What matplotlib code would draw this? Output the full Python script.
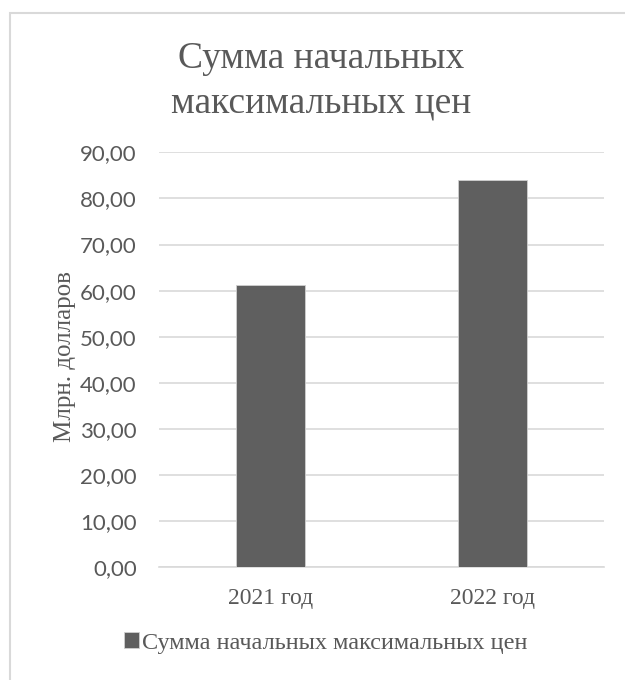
import matplotlib
matplotlib.use('Agg')
import matplotlib.pyplot as plt
from matplotlib.patches import Rectangle

# данные
years = ['2021 год', '2022 год']
values = [61.2, 84.0]
series_name = 'Сумма начальных максимальных цен'
title_lines = ['Сумма начальных', 'максимальных цен']
yticks = [0, 10, 20, 30, 40, 50, 60, 70, 80, 90]

text_color = '#595959'
bar_color = '#5f5f5f'
grid_color = '#d9d9d9'
serif = 'Liberation Serif'
sans = 'Lato'

fig = plt.figure(figsize=(6.25, 6.8), dpi=100)
ax = fig.add_axes([0.2544, 0.1657, 0.712, 0.6103])

x = range(len(years))
ax.bar(x, values, width=0.31, color=bar_color, edgecolor='#d0d0d0', linewidth=0.6,
       label=series_name, zorder=3)

ax.set_xlim(-0.5, len(years) - 0.5)
ax.set_ylim(0, 90)
ax.set_yticks(yticks)
ax.set_yticklabels([f'{v:.2f}'.replace('.', ',') for v in yticks],
                   fontfamily=sans, fontsize=16, color=text_color)
ax.set_xticks(list(x))
ax.set_xticklabels(years, fontfamily=serif, fontsize=17, color=text_color)
ax.tick_params(axis='both', length=0)
ax.tick_params(axis='y', pad=16)
ax.tick_params(axis='x', pad=15)

ax.grid(True, axis='y', color=grid_color, linewidth=1.2, zorder=0)
for s in ['top', 'right', 'left']:
    ax.spines[s].set_visible(False)
ax.spines['bottom'].set_color(grid_color)
ax.spines['bottom'].set_linewidth(1.2)

ax.set_ylabel('Млрн. долларов', fontfamily=serif, fontsize=18, color=text_color)
ax.yaxis.set_label_coords(-0.187, 0.507)

# заголовок в две строки, по центру области диаграммы (она шире картинки)
cx = 321 / 625
for line, ypix in zip(title_lines, [68, 112]):
    fig.text(cx, 1 - ypix / 680, line, ha='center', va='baseline',
             fontfamily=serif, fontsize=27, color=text_color)

leg = fig.legend(loc='center', bbox_to_anchor=(326 / 625, 1 - 643 / 680), frameon=False,
                 prop={'family': serif, 'size': 17.5}, handlelength=0.6, handleheight=0.6,
                 handletextpad=0.15)
for t in leg.get_texts():
    t.set_color(text_color)

# рамка вокруг области диаграммы
fig.patches.append(Rectangle((10 / 625, -0.05), 1.2, 1 - 13 / 680 + 0.05,
                             transform=fig.transFigure, fill=False,
                             edgecolor=grid_color, linewidth=1.5))

fig.savefig('out.png', dpi=100, facecolor='white')
